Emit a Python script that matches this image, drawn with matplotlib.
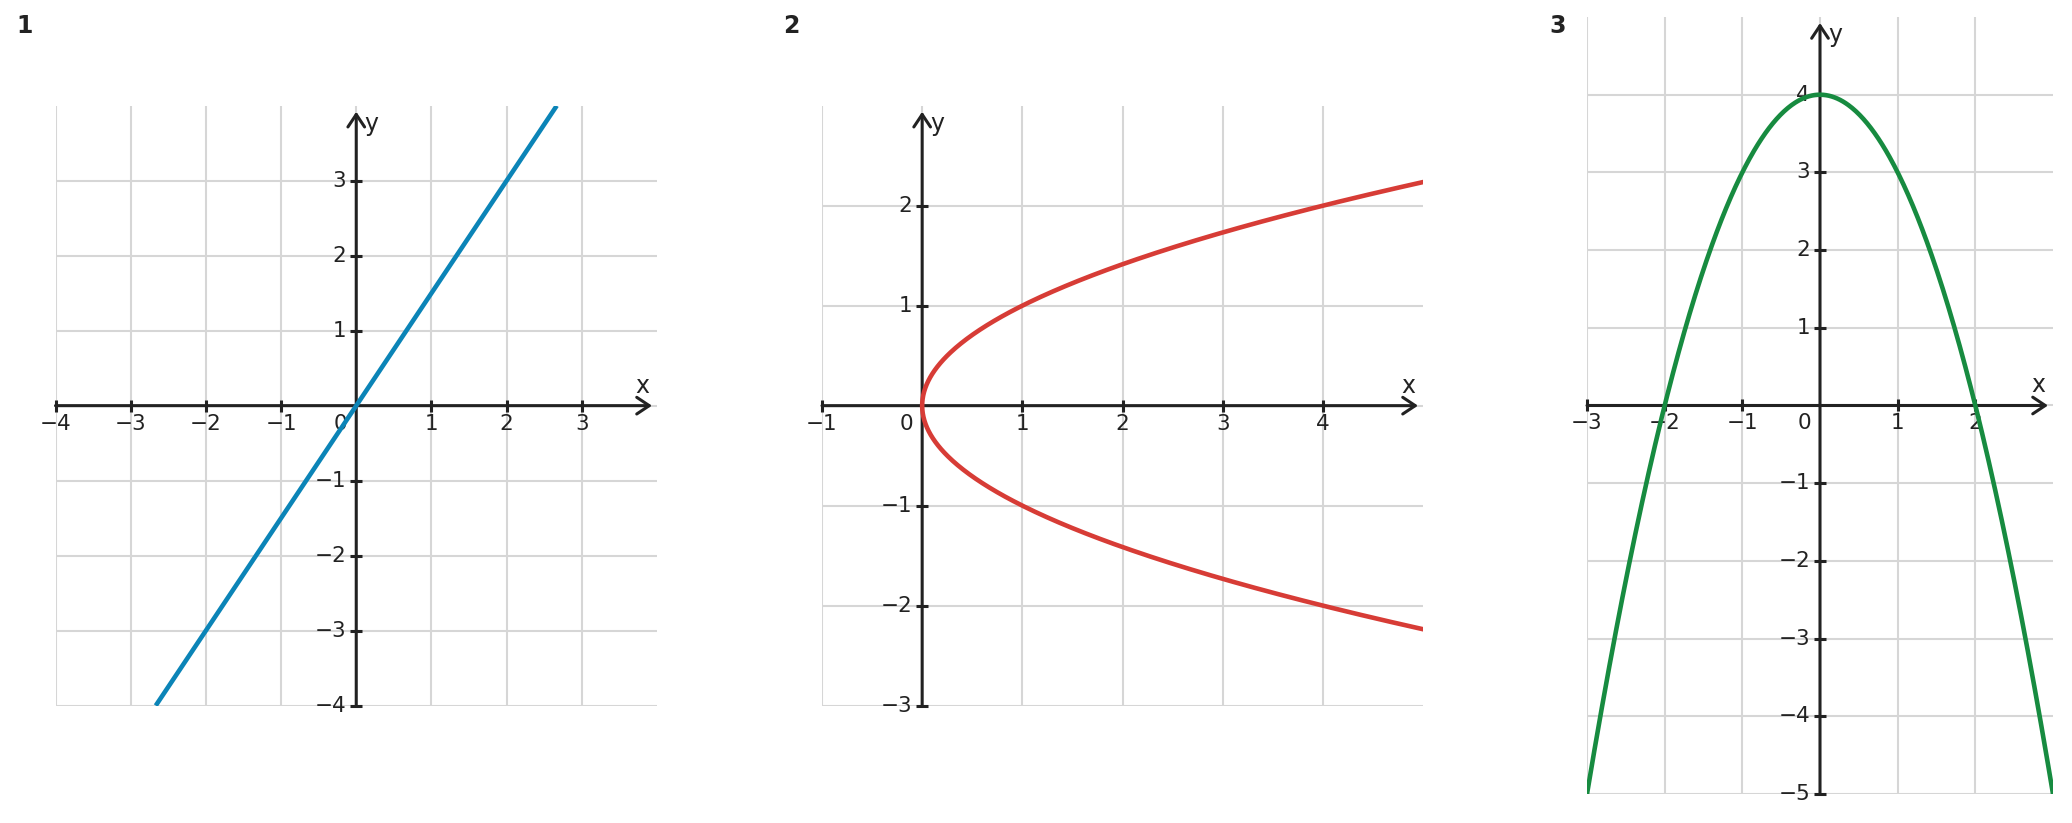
import numpy as np
import matplotlib.pyplot as plt

# Figure size in pixels
W, H = 2072, 823

# Panel labels and plotting windows
panel_labels = ['1', '2', '3']
x_ranges = [(-4, 4), (-1, 5), (-3, 3)]
y_ranges = [(-4, 4), (-3, 3), (-5, 5)]

# Curve parameters
line_slope = 1.5          # panel 1: y = 1.5 x
sqrt_coef = 1.0           # panel 2: x = y^2
parab_a, parab_c = -1.0, 4.0   # panel 3: y = -x^2 + 4

colors = ['#0b84b7', '#d73c36', '#178b40']
axis_col = '#222222'
grid_col = '#d6d6d6'

# Axes boxes in pixels (left, top, right, bottom)
boxes = [(55.5, 105.7, 657, 705.6), (822, 105.7, 1423, 705.6), (1587, 17, 2053, 794)]
label_pos = [(25, 26), (791, 26), (1558, 26)]

fig = plt.figure(figsize=(W / 100, H / 100), dpi=100)
plt.rcParams['font.family'] = ['DejaVu Sans']


def minus(v):
    return str(v).replace('-', '\u2212')


def draw_panel(i):
    l, t, r, b = boxes[i]
    ax = fig.add_axes([l / W, 1 - b / H, (r - l) / W, (b - t) / H])
    x0, x1 = x_ranges[i]
    y0, y1 = y_ranges[i]
    ax.set_xlim(x0, x1)
    ax.set_ylim(y0, y1)
    for s in ax.spines.values():
        s.set_visible(False)
    xt = np.arange(x0, x1)
    yt = np.arange(y0, y1)
    ax.set_xticks(xt)
    ax.set_yticks(yt)
    ax.tick_params(length=0, labelbottom=False, labelleft=False)
    ax.grid(True, color=grid_col, lw=1.5)
    ax.set_axisbelow(True)

    # curve
    if i == 0:
        yy = np.array([y0, y1], dtype=float)
        ax.plot(yy / line_slope, yy, color=colors[i], lw=3.3, solid_capstyle='butt', zorder=4)
    elif i == 1:
        yy = np.linspace(-np.sqrt(x1 / sqrt_coef), np.sqrt(x1 / sqrt_coef), 500)
        ax.plot(sqrt_coef * yy ** 2, yy, color=colors[i], lw=3.3, zorder=4)
    else:
        xx = np.linspace(x0, x1, 500)
        ax.plot(xx, parab_a * xx ** 2 + parab_c, color=colors[i], lw=3.3, zorder=4)

    # coordinate axes with arrows
    arrow = dict(arrowstyle='->,head_length=0.45,head_width=0.3', lw=2.2,
                 color=axis_col, shrinkA=0, shrinkB=0, mutation_scale=20)
    ppu_x = (r - l) / (x1 - x0)
    ppu_y = (b - t) / (y1 - y0)
    ax.annotate('', xy=(x1 - 5 / ppu_x, 0), xytext=(x0, 0), arrowprops=arrow, zorder=3)
    ax.annotate('', xy=(0, y1 - 6 / ppu_y), xytext=(0, y0), arrowprops=arrow, zorder=3)

    # tick marks
    xt_nz = xt[xt != 0]
    yt_nz = yt[yt != 0]
    ax.plot(xt_nz, np.zeros(len(xt_nz)), ls='none', marker='|', ms=9, mew=2.2,
            color=axis_col, zorder=3, clip_on=False)
    ax.plot(np.zeros(len(yt_nz)), yt_nz, ls='none', marker='_', ms=9, mew=2.2,
            color=axis_col, zorder=3, clip_on=False)

    fs = 15.5
    for v in xt_nz:
        ax.annotate(minus(v), xy=(v, 0), xytext=(0, -8), textcoords='offset pixels',
                    ha='center', va='top', fontsize=fs, color=axis_col)
    for v in yt_nz:
        ax.annotate(minus(v), xy=(0, v), xytext=(-10, 0), textcoords='offset pixels',
                    ha='right', va='center', fontsize=fs, color=axis_col)
    ax.annotate('0', xy=(0, 0), xytext=(-16, -8), textcoords='offset pixels',
                ha='center', va='top', fontsize=fs, color=axis_col)

    # axis names
    ax.annotate('x', xy=(x1, 0), xytext=(-15, 20), textcoords='offset pixels',
                ha='center', va='center', fontsize=17, color=axis_col)
    ax.annotate('y', xy=(0, y1), xytext=(15, -18), textcoords='offset pixels',
                ha='center', va='center', fontsize=17, color=axis_col)

    fig.text(label_pos[i][0] / W, 1 - label_pos[i][1] / H, panel_labels[i],
             fontsize=17, fontweight='bold', color=axis_col, ha='center', va='center')


for i in range(3):
    draw_panel(i)

fig.savefig('out.png', dpi=100)
